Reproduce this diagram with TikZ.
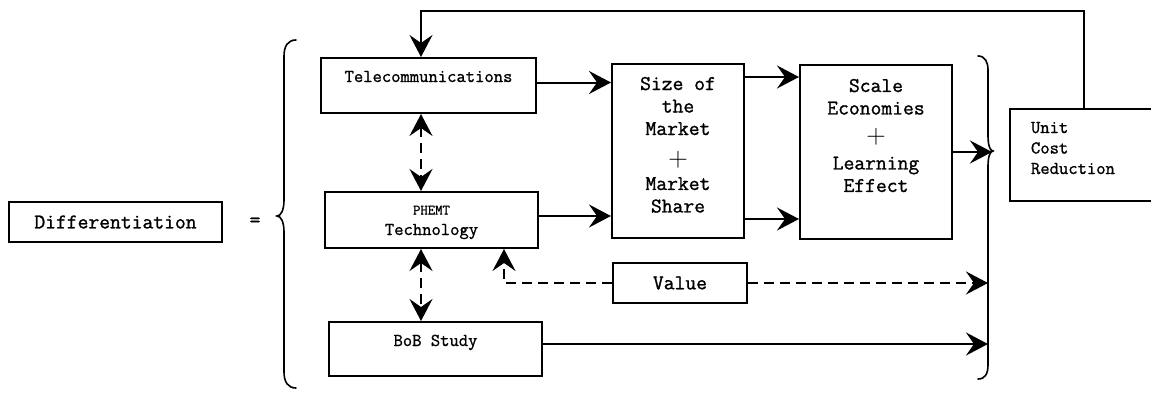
\documentclass[tikz,border=0pt]{standalone}
\usepackage{fontspec}
\setmonofont{Latin Modern Mono}[FakeBold=1.2]
\usepackage{tikz}
\usetikzlibrary{arrows.meta}
\tikzset{bigtip/.tip={Stealth[length=22pt,width=23pt,inset=8pt]}}
\tikzstyle{blk}=[rectangle,draw,line width=2pt,inner sep=0pt,font=\ttfamily\fontsize{18.1}{20.5}\selectfont]
\tikzstyle{bigblk}=[blk,font=\ttfamily\fontsize{21}{22.5}\selectfont]
\tikzstyle{flow}=[line width=2pt,-bigtip]
\tikzstyle{dflow}=[flow,dash pattern=on 10pt off 6pt]
\tikzstyle{dboth}=[dflow,bigtip-bigtip]
\tikzstyle{brace}=[line width=1.6pt,line cap=round]
\newcommand{\plusrow}{{\rmfamily\fontsize{27}{22.5}\selectfont +}}

\begin{document}
\begin{tikzpicture}[x=1pt,y=-1pt]
          \useasboundingbox (0,0) rectangle (1151,396);
          \clip (0,0) rectangle (1151,396);

          \node[bigblk,minimum width=213pt,minimum height=40pt] (diff) at (115.5,222) {Differentiation};
          \node[font=\ttfamily\fontsize{21}{22.5}\selectfont] (eq) at (255,222) {=};

          \draw[brace] (296,40) .. controls (288,40) and (284,46) .. (284,56) -- (284,200)
                .. controls (284,210) and (281,216) .. (277,216)
                .. controls (281,216) and (284,222) .. (284,232) -- (284,372)
                .. controls (284,382) and (288,388) .. (296,388);

          \node[blk,anchor=north west,minimum width=215pt,text height=24pt,text depth=31pt] (tele) at (320,57) {Telecommunications};

          \node[blk,anchor=north west,minimum width=213pt,text height=22.5pt,text depth=33.5pt] (phemt) at (324,191)
                {\begin{tabular}[t]{@{}c@{}}{\fontsize{14.3}{15}\selectfont PHEMT}\\Technology\end{tabular}};

          \node[blk,anchor=north west,minimum width=213pt,text height=24pt,text depth=30pt] (bob) at (328,321) {BoB Study};

          \node[bigblk,anchor=north west,minimum width=132pt,text height=26pt,text depth=148pt] (size) at (611,63)
                {\begin{tabular}[t]{@{}c@{}}Size of\\the\\Market\\[9pt]\plusrow\\[1pt]Market\\Share\end{tabular}};

          \node[bigblk,anchor=north west,minimum width=152pt,text height=27pt,text depth=147pt] (scale) at (799,64)
                {\begin{tabular}[t]{@{}c@{}}Scale\\Economies\\[7pt]\plusrow\\[3pt]Learning\\Effect\end{tabular}};

          \node[bigblk,minimum width=134pt,minimum height=40pt] (value) at (680,283) {Value};

          \node[blk,anchor=north west,minimum width=148pt,text height=24pt,text depth=68pt] (unit) at (1009,108)
                {\makebox[148pt][l]{\hspace{21pt}\begin{tabular}[t]{@{}l@{}}Unit\\Cost\\Reduction\end{tabular}}};

          \draw[brace] (978,56) .. controls (985,56) and (988,62) .. (988,70) -- (988,136)
                .. controls (988,145) and (990,151) .. (993,151)
                .. controls (990,151) and (988,157) .. (988,166) -- (988,365)
                .. controls (988,374) and (985,379) .. (978,379);

          \coordinate (vx) at (421,0);
          \coordinate (fb) at (421,11);
          \coordinate (vl) at (504,0);
          \coordinate (brR) at (988,0);
          \coordinate (cusp) at (992,151);

          \draw[flow]  (unit.north) |- (fb) -- (tele.north -| fb);
          \draw[dboth] (tele.south -| vx) -- (phemt.north -| vx);
          \draw[dboth] (phemt.south -| vx) -- (bob.north -| vx);

          \draw[flow] ([yshift=3pt]tele.east) -- ([yshift=3pt]tele.east -| size.west);
          \draw[flow] ([yshift=4pt]phemt.east) -- ([yshift=4pt]phemt.east -| size.west);
          \draw[flow] ([yshift=-14pt]size.north east) -- ([yshift=-14pt]size.north east -| scale.west);
          \draw[flow] ([yshift=20pt]size.south east) -- ([yshift=20pt]size.south east -| scale.west);
          \draw[flow] (scale.east) -- (scale.east -| cusp);

          \draw[dflow] (value.west) -| (phemt.south -| vl);
          \draw[dflow] (value.east) -- (value.east -| brR);
          \draw[flow]  ([yshift=5pt]bob.east) -- ([yshift=5pt]bob.east -| brR);
        \end{tikzpicture}
\end{document}
